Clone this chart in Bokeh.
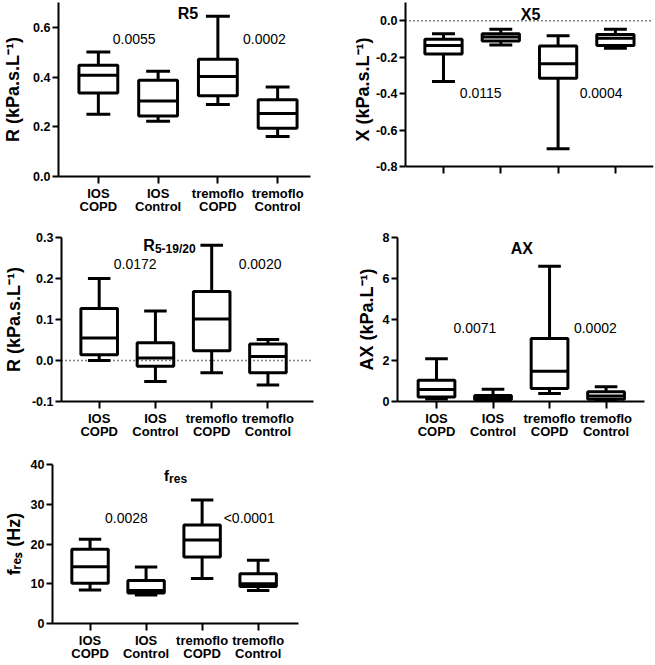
from bokeh.plotting import figure
from bokeh.layouts import column, row
from bokeh.models import FixedTicker, PrintfTickFormatter, Span
from bokeh.core.properties import value
from bokeh.embed import file_html
from bokeh.resources import INLINE

# ---------------- data ----------------
groups = ["IOS\nCOPD", "IOS\nControl", "tremoflo\nCOPD", "tremoflo\nControl"]
positions = [1, 2, 3, 4]

# R5 (kPa.s.L-1)
r5_low = [0.250, 0.222, 0.290, 0.161]
r5_q1 = [0.336, 0.243, 0.325, 0.194]
r5_med = [0.407, 0.304, 0.402, 0.253]
r5_q3 = [0.448, 0.387, 0.472, 0.309]
r5_high = [0.501, 0.423, 0.645, 0.360]
r5_p = ["0.0055", "0.0002"]

# X5 (kPa.s.L-1)
x5_low = [-0.333, -0.133, -0.702, -0.151]
x5_q1 = [-0.182, -0.111, -0.315, -0.136]
x5_med = [-0.136, -0.089, -0.236, -0.096]
x5_q3 = [-0.101, -0.071, -0.138, -0.075]
x5_high = [-0.072, -0.047, -0.082, -0.047]
x5_p = ["0.0115", "0.0004"]

# R5-19/20 (kPa.s.L-1)
rd_low = [0.000, -0.051, -0.030, -0.060]
rd_q1 = [0.014, -0.014, 0.024, -0.030]
rd_med = [0.055, 0.006, 0.101, 0.010]
rd_q3 = [0.127, 0.043, 0.168, 0.040]
rd_high = [0.200, 0.121, 0.281, 0.051]
rd_p = ["0.0172", "0.0020"]

# AX (kPa.L-1)
ax_low = [0.12, 0.05, 0.39, 0.06]
ax_q1 = [0.22, 0.09, 0.63, 0.11]
ax_med = [0.59, 0.16, 1.47, 0.27]
ax_q3 = [1.04, 0.29, 3.07, 0.48]
ax_high = [2.08, 0.60, 6.60, 0.72]
ax_p = ["0.0071", "0.0002"]

# fres (Hz)
fr_low = [8.45, 7.2, 11.3, 8.3]
fr_q1 = [10.1, 7.7, 16.7, 9.3]
fr_med = [14.3, 8.3, 21.0, 10.0]
fr_q3 = [18.7, 10.8, 24.8, 12.5]
fr_high = [21.2, 14.2, 31.1, 15.9]
fr_p = ["0.0028", "<0.0001"]

FONT = "Liberation Sans"
BOX_W = 0.65
CAP_W = 0.40
LW = 3


def make_panel(w, h, bl, br, bt, bb, xr, yr, yticks, yfmt, ylabel, lab_standoff):
    p = figure(width=w, height=h, x_range=xr, y_range=yr,
               output_backend="svg", toolbar_location=None,
               min_border_left=bl, min_border_right=br,
               min_border_top=bt, min_border_bottom=bb)
    p.outline_line_color = None
    p.grid.visible = False
    p.background_fill_color = "white"
    p.border_fill_color = "white"
    for ax in (p.xaxis[0], p.yaxis[0]):
        ax.axis_line_width = 2
        ax.axis_line_color = "black"
        ax.major_tick_line_width = 2
        ax.major_tick_line_color = "black"
        ax.major_tick_in = 0
        ax.minor_tick_line_color = None
        ax.major_label_text_font = FONT
        ax.major_label_text_font_style = "bold"
        ax.major_label_text_color = "black"
    # y axis
    p.yaxis.ticker = FixedTicker(ticks=yticks)
    p.yaxis.formatter = PrintfTickFormatter(format=yfmt)
    p.yaxis.major_tick_out = 6
    p.yaxis.major_label_text_font_size = "12.5px"
    p.yaxis.major_label_standoff = 2
    p.yaxis.axis_label = ylabel
    p.yaxis.axis_label_text_font = FONT
    p.yaxis.axis_label_text_font_style = "bold"
    p.yaxis.axis_label_text_font_size = "18px"
    p.yaxis.axis_label_text_color = "black"
    p.yaxis.axis_label_standoff = lab_standoff
    # x axis
    p.xaxis.axis_label = None
    p.xaxis.ticker = FixedTicker(ticks=positions)
    p.xaxis.major_label_overrides = {pos: g for pos, g in zip(positions, groups)}
    p.xaxis.major_tick_out = 7
    p.xaxis.major_label_text_font_size = "13px"
    p.xaxis.major_label_text_line_height = 0.9
    p.xaxis.major_label_standoff = 2
    return p


def draw_boxes(p, low, q1, med, q3, high):
    left = [x - BOX_W / 2 for x in positions]
    right = [x + BOX_W / 2 for x in positions]
    cl = [x - CAP_W / 2 for x in positions]
    cr = [x + CAP_W / 2 for x in positions]
    p.segment(x0=positions, y0=q3, x1=positions, y1=high, line_width=LW, line_color="black")
    p.segment(x0=positions, y0=q1, x1=positions, y1=low, line_width=LW, line_color="black")
    p.segment(x0=cl, y0=high, x1=cr, y1=high, line_width=LW, line_color="black")
    p.segment(x0=cl, y0=low, x1=cr, y1=low, line_width=LW, line_color="black")
    p.quad(left=left, right=right, bottom=q1, top=q3, fill_color="white",
           line_color="black", line_width=LW)
    p.segment(x0=left, y0=med, x1=right, y1=med, line_width=LW, line_color="black")


def pvalues(p, xs, y, texts):
    p.text(x=xs, y=[y] * len(texts), text=texts, text_font=value(FONT),
           text_font_size="14px", text_align="center", text_baseline="middle",
           text_color="black")


def title_text(p, x, y, txt, size="16px", align="center", baseline="middle"):
    p.text(x=[x], y=[y], text=[txt], text_font=value(FONT), text_font_size=size,
           text_font_style="bold", text_align=align, text_baseline=baseline,
           text_color="black")


def zero_line(p):
    p.add_layout(Span(location=0, dimension="width", line_color="black",
                      line_width=1.5, line_dash="1 3"))


SUP = "\u207b\u00b9"

# ---------------- R5 ----------------
p1 = make_panel(330, 218, 57, 20, 2, 42, (0.333, 4.55), (0, 0.7),
                [0, 0.2, 0.4, 0.6], "%.1f", "R (kPa.s.L" + SUP + ")", 7)
draw_boxes(p1, r5_low, r5_q1, r5_med, r5_q3, r5_high)
pvalues(p1, [1.6, 3.78], 0.552, r5_p)
title_text(p1, 2.5, 0.655, "R5")

# ---------------- X5 ----------------
# frame extends a little below -0.8; the x axis is pinned at -0.8
p2 = make_panel(324, 218, 75, 1, 1, 42, (0.337, 4.665), (-0.8545, 0.1),
                [-0.8, -0.6, -0.4, -0.2, 0.0], "%.1f", "X (kPa.s.L" + SUP + ")", 0)
p2.xaxis.fixed_location = -0.8
p2.yaxis.bounds = (-0.8, 0.1)
zero_line(p2)
draw_boxes(p2, x5_low, x5_q1, x5_med, x5_q3, x5_high)
pvalues(p2, [1.65, 3.75], -0.397, x5_p)
title_text(p2, 2.52, 0.033, "X5")

# ---------------- R5-19/20 ----------------
p3 = make_panel(330, 224, 59, 17, 19, 41, (0.33, 4.81), (-0.1, 0.3),
                [-0.1, 0.0, 0.1, 0.2, 0.3], "%.1f", "R (kPa.s.L" + SUP + ")", 5)
zero_line(p3)
draw_boxes(p3, rd_low, rd_q1, rd_med, rd_q3, rd_high)
pvalues(p3, [1.64, 3.86], 0.236, rd_p)
title_text(p3, 1.99, 0.281, "R", align="right", baseline="alphabetic")
title_text(p3, 1.99, 0.271, "5-19/20", size="12px", align="left", baseline="alphabetic")

# ---------------- AX ----------------
p4 = make_panel(324, 224, 67, 10, 18, 41, (0.31, 4.68), (0, 8),
                [0, 2, 4, 6, 8], "%d", "AX (kPa.L" + SUP + ")", 3)
draw_boxes(p4, ax_low, ax_q1, ax_med, ax_q3, ax_high)
pvalues(p4, [1.68, 3.81], 3.57, ax_p)
title_text(p4, 2.51, 7.45, "AX")

# ---------------- fres ----------------
p5 = make_panel(330, 222, 49, 32, 22, 41, (0.33, 4.72), (0, 40),
                [0, 10, 20, 30, 40], "%d", "f\u1d63\u2091\u209b (Hz)", 4)
draw_boxes(p5, fr_low, fr_q1, fr_med, fr_q3, fr_high)
pvalues(p5, [1.65, 3.84], 26.5, fr_p)
title_text(p5, 2.41, 37.35, "f", size="15px", align="right", baseline="alphabetic")
title_text(p5, 2.41, 36.4, "res", size="12px", align="left", baseline="alphabetic")

layout = column(row(p1, p2), row(p3, p4), row(p5))

with open("out.html", "w") as f:
    f.write(file_html(layout, INLINE))
